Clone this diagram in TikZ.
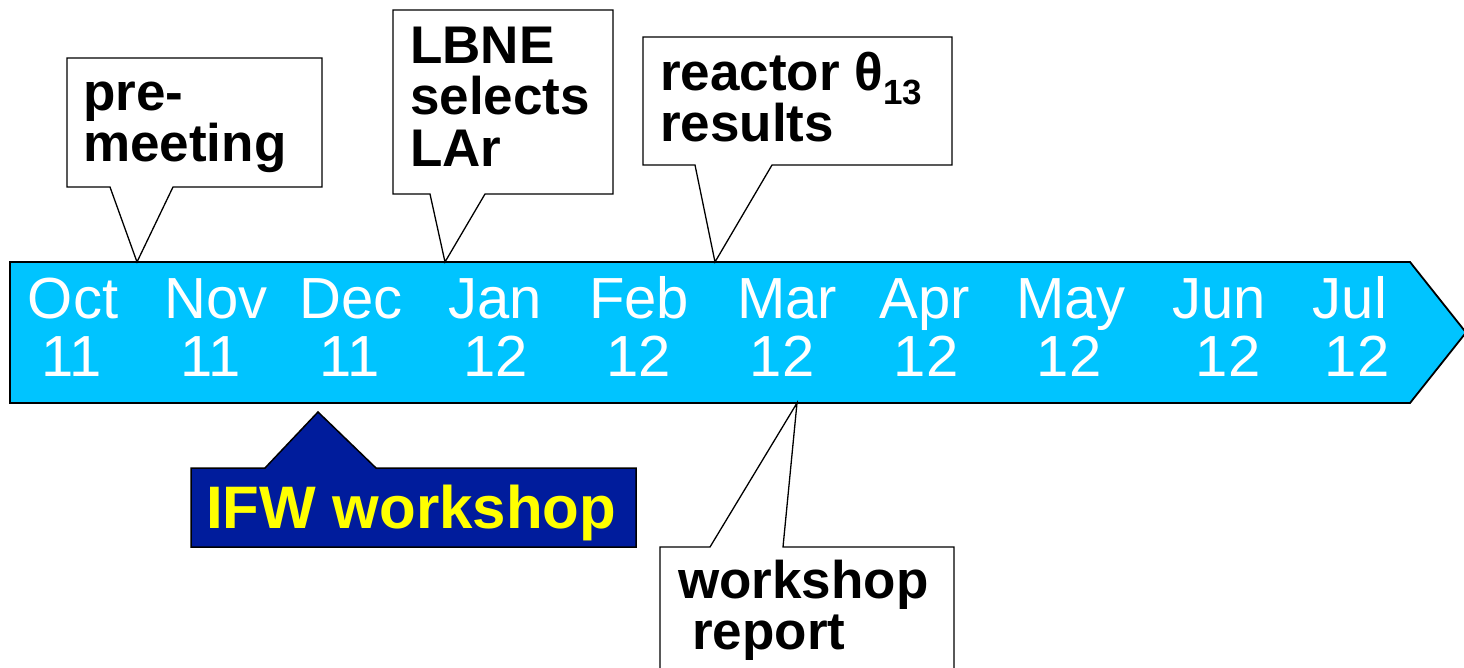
\documentclass[tikz,border=0pt]{standalone}
\usepackage{fontspec}
\setmainfont{Liberation Sans}
\definecolor{arrowcyan}{RGB}{0,196,255}
\definecolor{ifwblue}{RGB}{0,28,156}
\definecolor{ifwyellow}{RGB}{255,255,0}
\begin{document}
\begin{tikzpicture}[x=1pt,y=-1pt,
  callout/.style={draw=black,fill=white,line width=1.3pt,line join=miter},
  month/.style={anchor=base,text=white,inner sep=0pt,font=\fontsize{58}{58}\selectfont},
  ctext/.style={anchor=base west,inner sep=0pt,font=\fontsize{53}{53}\selectfont\bfseries},
  ifwtext/.style={anchor=base west,inner sep=0pt,text=ifwyellow,font=\fontsize{60}{60}\selectfont\bfseries}]
\useasboundingbox (0,0) rectangle (1464,668);
% timeline arrow
\draw[fill=arrowcyan,line width=1.8pt,line join=miter]
  (10,262) -- (1410,262) -- (1466,332.5) -- (1410,403) -- (10,403) -- cycle;
% month labels
\foreach \m/\mx/\y/\yx [count=\i] in {Oct/73/11/72,Nov/216/11/211,Dec/351/11/350,Jan/495/12/496,Feb/639/12/639,Mar/787/12/782,Apr/925/12/926,May/1071/12/1069,Jun/1219/12/1228,Jul/1350/12/1357}{
  \node[month] (m\i) at (\mx,319) {\m};
  \node[month] (y\i) at (\yx,376) {\y};
}
% callout 1: pre-meeting
\coordinate (t1) at (137,262);
\draw[callout] (67,58) -- (322,58) -- (322,187) -- (173,187) -- (t1) -- (110,187) -- (67,187) -- cycle;
\node[ctext] (c1a) at (83,111) {pre-};
\node[ctext] (c1b) at (83,162) {meeting};
% callout 2: LBNE selects LAr
\coordinate (t2) at (445,262);
\draw[callout] (393,10) -- (613,10) -- (613,194) -- (485,194) -- (t2) -- (430,194) -- (393,194) -- cycle;
\node[ctext] (c2a) at (410,64) {LBNE};
\node[ctext] (c2b) at (410,115) {selects};
\node[ctext] (c2c) at (410,167) {LAr};
% callout 3: reactor theta13 results
\coordinate (t3) at (715,262);
\draw[callout] (643,37) -- (952,37) -- (952,165) -- (772,165) -- (t3) -- (695,165) -- (643,165) -- cycle;
\node[ctext] (c3a) at (660,91) {reactor θ\raisebox{-0.26em}{\fontsize{35}{35}\selectfont 13}};
\node[ctext] (c3b) at (660,142) {results};
% callout 4: workshop report
\coordinate (t4) at (797,403);
\draw[callout] (660,690) -- (660,547) -- (710,547) -- (t4) -- (783,547) -- (954,547) -- (954,690);
\node[ctext] (c4a) at (678,598) {workshop};
\node[ctext] (c4b) at (692,649) {report};
% IFW workshop
\coordinate (t5) at (318,412);
\draw[fill=ifwblue,line width=1.5pt,line join=miter]
  (191,468) -- (265,468) -- (t5) -- (376,468) -- (636,468) -- (636,547) -- (191,547) -- cycle;
\node[ifwtext] (ifw) at (206,528) {IFW workshop};
\end{tikzpicture}
\end{document}
